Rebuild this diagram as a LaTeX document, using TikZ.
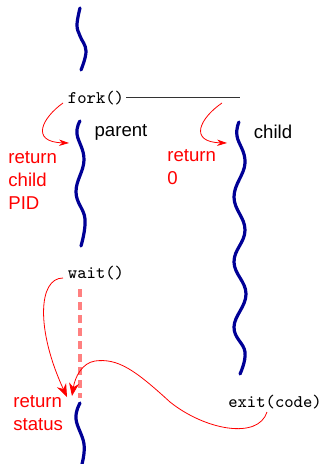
\documentclass[tikz,border=0pt]{standalone}
\usepackage{fontspec}
\setmainfont{Liberation Sans}
\usepackage{tikz}
\usetikzlibrary{arrows.meta}
\definecolor{threadblue}{RGB}{0,0,150}

\begin{document}
\begin{tikzpicture}[
    x=0.5pt, y=-0.5pt,
    thread/.style={threadblue, line width=1.6pt, line cap=round},
    code/.style={inner sep=1pt, font=\ttfamily\fontsize{8.9}{11}\selectfont},
    label/.style={inner sep=0pt, font=\fontsize{9.3}{11.5}\selectfont},
    ret/.style={label, text=red, align=left, anchor=west},
    retarrow/.style={red, line width=0.4pt, -{Stealth[length=5pt, width=3.2pt]}},
    bigarrow/.style={red, line width=0.4pt, -{Stealth[length=6.5pt, width=5pt]}},
    waiting/.style={red!50, line width=1.6pt, dash pattern=on 4pt off 2.5pt}
]
\useasboundingbox (0,0) rectangle (325,464);

% Threads
\draw[thread] plot[smooth, tension=0.7] coordinates {(80,8) (77,25) (80,36) (86,51) (81,70)};
\draw[thread] plot[smooth, tension=0.7] coordinates {(80,121) (77,134) (84,160) (76,192) (85,219) (81,246)};
\draw[thread] plot[smooth, tension=0.7] coordinates {(239,122) (237,136) (245,163) (234,197) (245,230)
    (234,262) (246,294) (234,327) (245,352) (240,374)};
\draw[thread] plot[smooth, tension=0.7] coordinates {(80,403) (76,419) (84,444) (82,464)};

% System calls
\node[code] (fork) at (96,98) {fork()};
\node[code] (wait) at (96,273) {wait()};
\node[code] (exit) at (275,402) {exit(code)};
\coordinate (forkend) at (240,98);
\draw[black!80, line width=0.5pt] (fork.east) -- (forkend);

% Labels
\node[label] (parent) at (121,132) {parent};
\node[label] (child) at (273,132) {child};
\node[ret] (retpid) at (8,180) {return\\child\\PID};
\node[ret] (retzero) at (167,167) {return\\0};
\node[ret] (retstatus) at (13,413) {return\\status};

% Return points
\coordinate (parentstart) at (69,143);
\coordinate (childsplit) at (222,103);
\coordinate (childstart) at (227,143);
\coordinate (statusA) at (67,397);
\coordinate (statusB) at (72,396);
\coordinate (exitfrom) at (267,412);

% Waiting
\coordinate (waittop) at (80,289);
\coordinate (waitbot) at (80,398);
\draw[waiting] (waittop) -- (waitbot);

% Arrows
\draw[retarrow] (63,103) .. controls (42,118) and (30,142) .. (parentstart);
\draw[retarrow] (childsplit) .. controls (200,118) and (188,142) .. (childstart);
\draw[bigarrow] (63,278) .. controls (38,278) and (36,330) .. (statusA);
\draw[bigarrow] (exitfrom) .. controls (258,440) and (205,430) .. (170,402)
    .. controls (135,370) and (118,358) .. (95,361) .. controls (82,363) and (75,377) .. (statusB);

\end{tikzpicture}
\end{document}
